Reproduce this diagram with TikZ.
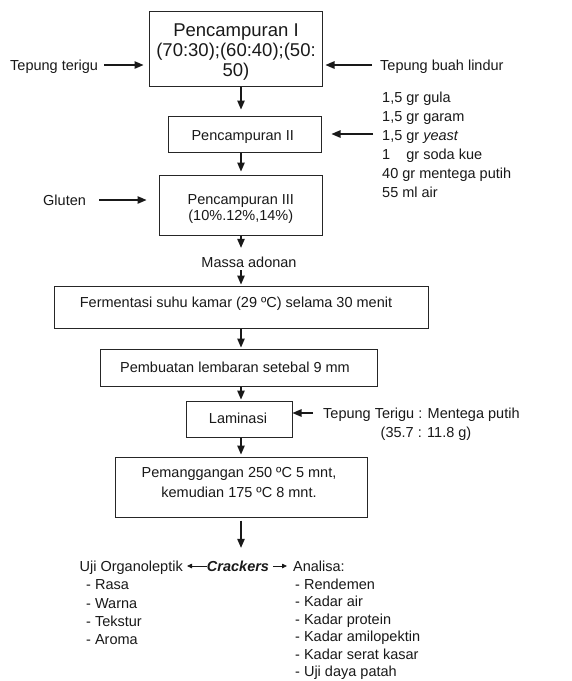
\documentclass[tikz,border=0pt]{standalone}
\usepackage{fontspec}
\setmainfont{Liberation Sans}
\usetikzlibrary{arrows.meta}
\tikzset{
  txt/.style={inner sep=0pt, text=black!90, font=\fontsize{14.5}{19}\selectfont},
  one/.style={txt, text height=10.5pt, text depth=0pt},
  procbox/.style={draw=black!85, line width=1pt, inner sep=0pt},
  arr/.style={draw=black!90, line width=1.1pt, -{Triangle[length=9pt,width=7.5pt]}},
  thinarr/.style={draw=black!90, line width=0.8pt, -{Triangle[length=5pt,width=4.5pt]}},
}
\begin{document}
\begin{tikzpicture}[x=1pt,y=-1pt]
\useasboundingbox (0,0) rectangle (572,681);
\fill[white] (0,0) rectangle (572,681);
\coordinate (ax) at (241,0);
% process boxes
\node[procbox, minimum width=173pt, minimum height=75pt] (p1) at (235.5,48.5) {};
\node[procbox, minimum width=153pt, minimum height=36pt] (p2) at (244.5,134) {};
\node[procbox, minimum width=163pt, minimum height=60pt] (p3) at (240.5,205) {};
\node[procbox, minimum width=374pt, minimum height=42pt] (ferm) at (241,307) {};
\node[procbox, minimum width=277pt, minimum height=37pt] (pemb) at (238.5,367.5) {};
\node[procbox, minimum width=106pt, minimum height=36pt] (lam) at (239,419) {};
\node[procbox, minimum width=252pt, minimum height=60pt] (pang) at (241,487) {};
% box texts
\node[txt, align=center, font=\fontsize{18.5}{20}\selectfont] (p1t) at (236,51.8) {Pencampuran I\\(70:30);(60:40);(50:\\50)};
\node[one] (p2t) at (242.7,135) {Pencampuran II};
\node[txt, align=center, font=\fontsize{14.5}{16}\selectfont] (p3t) at (240.8,209.4) {Pencampuran III\\(10\%.12\%,14\%)};
\node[one] (fermt) at (236,302) {Fermentasi suhu kamar (29 ºC) selama 30 menit};
\node[one] (pembt) at (235,367) {Pembuatan lembaran setebal 9 mm};
\node[one] (lamt) at (238,418) {Laminasi};
\node[txt, align=center, font=\fontsize{14.5}{20}\selectfont] (pangt) at (239,482.9) {Pemanggangan 250 ºC 5 mnt,\\kemudian 175 ºC 8 mnt.};
% side inputs
\node[one, anchor=west] (tt) at (10,65) {Tepung terigu};
\node[one, anchor=west] (tbl) at (380,65) {Tepung buah lindur};
\node[txt, anchor=west, align=left] (ingr) at (382,144.4) {1,5 gr gula\\1,5 gr garam\\1,5 gr \textit{yeast}\\1\hphantom{,5} gr soda kue\\40 gr mentega putih\\55 ml air};
\node[one, anchor=west] (gluten) at (43,200) {Gluten};
\node[one] (massa) at (249,262) {Massa adonan};
\node[one, anchor=west] (tm1) at (323,413) {Tepung Terigu : Mentega putih};
\node[one] (tm2) at (426,432) {(35.7 : 11.8 g)};
% outputs
\node[one, anchor=east] (uji) at (183,566) {Uji Organoleptik};
\node[one, font=\fontsize{14.5}{19}\selectfont\bfseries\itshape] (crackers) at (238,566) {Crackers};
\node[one, anchor=west] (analisa) at (293,566) {Analisa:};
\node[txt, anchor=west, align=left, font=\fontsize{14.5}{18.33}\selectfont] (ujil) at (86,612.4) {- Rasa\\- Warna\\- Tekstur\\- Aroma};
\node[txt, anchor=west, align=left, font=\fontsize{14.5}{17.5}\selectfont] (anal) at (295,629.2) {- Rendemen\\- Kadar air\\- Kadar protein\\- Kadar amilopektin\\- Kadar serat kasar\\- Uji daya patah};
% horizontal arrows
\draw[arr, shorten <=6pt, shorten >=5pt] (tt.east) -- (tt.east -| p1.west);
\draw[arr, shorten <=8pt, shorten >=3pt] (tbl.west) -- (tbl.west -| p1.east);
\draw[arr, shorten <=9pt, shorten >=10pt] (p2.east -| ingr.west) -- (p2.east);
\draw[arr, shorten <=13pt, shorten >=12pt] (gluten.east) -- (gluten.east -| p3.west);
\draw[arr, shorten <=10pt] (tm1.west) -- (tm1.west -| lam.east);
% vertical arrows
\draw[arr, shorten >=6pt] (p1.south -| ax) -- (p2.north -| ax);
\draw[arr, shorten >=3pt] (p2.south -| ax) -- (p3.north -| ax);
\draw[arr, shorten >=8.75pt] (p3.south -| ax) -- (massa.north -| ax);
\draw[arr, shorten <=2.75pt, shorten >=1pt] (massa.south -| ax) -- (ferm.north -| ax);
\draw[arr, shorten >=1pt] (ferm.south -| ax) -- (pemb.north -| ax);
\draw[arr, shorten >=1pt] (pemb.south -| ax) -- (lam.north -| ax);
\draw[arr, shorten >=2pt] (lam.south -| ax) -- (pang.north -| ax);
\draw[arr, shorten <=3pt, shorten >=12.75pt] (pang.south -| ax) -- (crackers.north -| ax);
% crackers arrows
\draw[thinarr, shorten >=4pt] (crackers.west) -- (uji.east);
\draw[thinarr, shorten <=4pt, shorten >=6pt] (crackers.east) -- (analisa.west);
\end{tikzpicture}
\end{document}
